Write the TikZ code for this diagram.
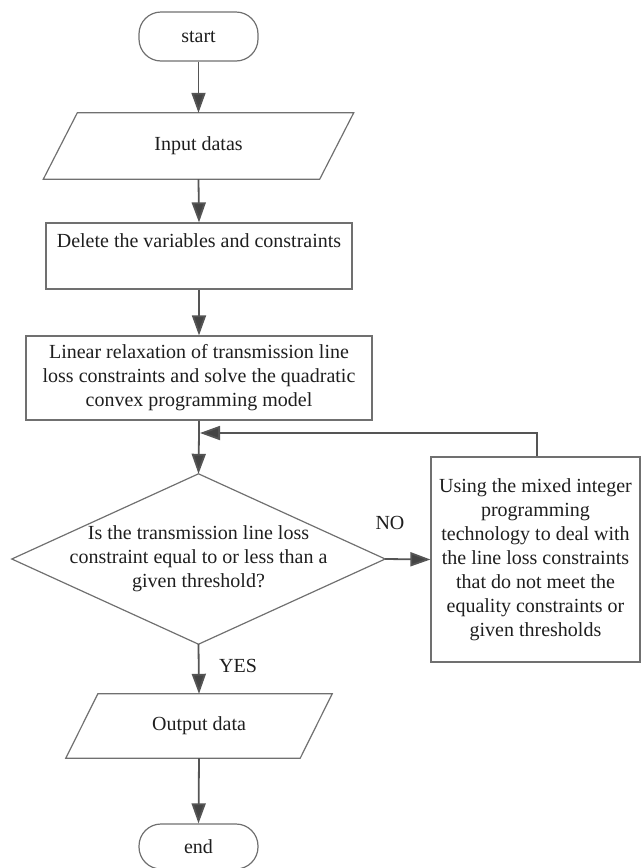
\documentclass[tikz,border=0pt]{standalone}
\usepackage{fontspec}
\setmainfont{Liberation Serif}
\usetikzlibrary{arrows.meta,shapes.geometric}
\definecolor{border}{HTML}{707070}
\definecolor{arrowc}{HTML}{555555}
\definecolor{txt}{HTML}{1E1E1E}
\tikzset{
  base/.style={font=\fontsize{20}{24}\selectfont, text=txt, inner sep=0pt, align=center},
  terminal/.style={base, draw=border, line width=1.2pt, rectangle, rounded corners=22pt, minimum width=119pt},
  procbox/.style={base, draw=border, line width=1.2pt, rectangle},
  iobox/.style={base, rectangle},
  decision/.style={base, rectangle, minimum width=373pt, minimum height=170pt},
  flow/.style={draw=arrowc, line width=1.8pt, -{Triangle[length=20pt,width=14pt,fill=arrowc!80!black]}},
  shapeline/.style={draw=border, line width=1.2pt, line join=miter},
  lbl/.style={base}
}
\begin{document}
\begin{tikzpicture}[x=1pt,y=-1pt]
\useasboundingbox (0,0) rectangle (642,868);

\node[terminal, minimum height=49pt] (start) at (198.5,36.5) {start};

\node[iobox, minimum width=276pt, minimum height=66pt] (input) at (198.5,146) {Input datas};
\draw[shapeline] ([xshift=17pt]input.north west) -- ([xshift=17pt]input.north east)
  -- ([xshift=-17pt]input.south east) -- ([xshift=-17pt]input.south west) -- cycle;

\node[procbox, minimum width=306pt, minimum height=66pt] (delete) at (199,256)
  {Delete the variables and constraints\\ \strut};

\node[procbox, minimum width=346pt, minimum height=84pt] (linear) at (199,378)
  {Linear relaxation of transmission line\\ loss constraints and solve the quadratic\\ convex programming model};

\coordinate (join) at (199,433);

\node[decision] (dia) at (198.5,559)
  {Is the transmission line loss\\ constraint equal to or less than a\\ given threshold?};
\draw[shapeline] (dia.north) -- (dia.east) -- (dia.south) -- (dia.west) -- cycle;

\node[procbox, minimum width=209pt, minimum height=205pt] (mip) at (535.5,559.5)
  {Using the mixed integer\\ programming\\ technology to deal with\\ the line loss constraints\\ that do not meet the\\ equality constraints or\\ given thresholds};

\node[iobox, minimum width=234pt, minimum height=64pt] (output) at (199,726) {Output data};
\draw[shapeline] ([xshift=16pt]output.north west) -- ([xshift=16pt]output.north east)
  -- ([xshift=-16pt]output.south east) -- ([xshift=-16pt]output.south west) -- cycle;

\node[terminal, minimum height=45pt] (end) at (198.5,846.5) {end};

\node[lbl] (no) at (390,523) {NO};
\node[lbl] (yes) at (238,666) {YES};

\draw[flow] (start.south) -- (input.north);
\draw[flow] (input.south) -- (delete.north);
\draw[flow] (delete.south) -- (linear.north);
\draw[flow] (linear.south) -- (join) -- (dia.north);
\draw[flow] (mip.north -| 537,0) -- (537,433) -- ([xshift=1pt]join);
\draw[flow] (dia.east) -- (mip.west);
\draw[flow] (dia.south) -- (output.north);
\draw[flow] (output.south) -- (end.north);
\end{tikzpicture}
\end{document}
